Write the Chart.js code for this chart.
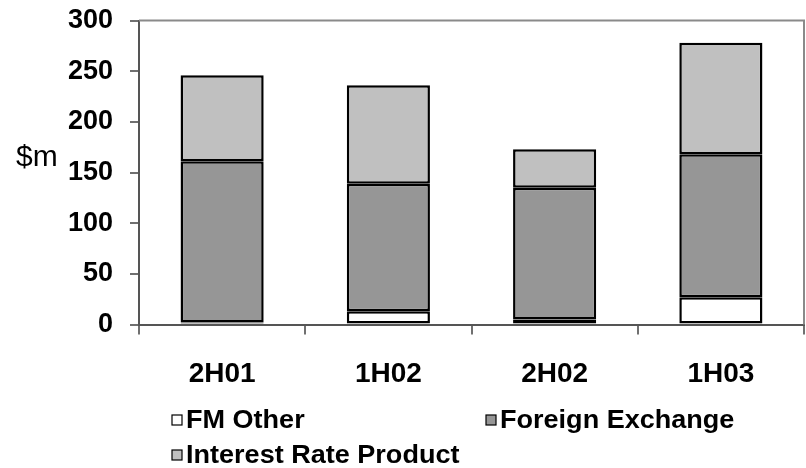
<!DOCTYPE html>
<html>
<head>
<meta charset="utf-8">
<script src="https://cdn.jsdelivr.net/npm/chart.js@4/dist/chart.umd.min.js"></script>
<style>
html,body{margin:0;padding:0;background:#fff;}
#wrap{width:806px;height:468px;position:relative;}
</style>
</head>
<body>
<div id="wrap"><canvas id="c" width="806" height="468"></canvas></div>
<script>
const categories = ['2H01', '1H02', '2H02', '1H03'];
const fmOther = [2, 13, 5, 27];
const foreignExchange = [159, 126, 130, 141];
const interestRateProduct = [85, 97, 38, 110];
const seriesNames = ['FM Other', 'Foreign Exchange', 'Interest Rate Product'];
const yTicks = [0, 50, 100, 150, 200, 250, 300];
const yUnit = '$m';

const FONT = '"Liberation Sans", Arial, sans-serif';

const framePlugin = {
  id: 'frame',
  beforeDatasetsDraw(chart) {
    const a = chart.chartArea, ctx = chart.ctx;
    ctx.save();
    ctx.strokeStyle = '#8a8a8a';
    ctx.lineWidth = 2;
    ctx.beginPath();
    ctx.moveTo(a.left, a.top);
    ctx.lineTo(a.right, a.top);
    ctx.lineTo(a.right, a.bottom);
    ctx.stroke();
    ctx.restore();
  },
  afterDraw(chart) {
    const ctx = chart.ctx, a = chart.chartArea;
    ctx.save();
    ctx.fillStyle = '#000';
    ctx.font = '30px ' + FONT;
    ctx.textBaseline = 'middle';
    ctx.textAlign = 'left';
    ctx.fillText(yUnit, 16, chart.scales.y.getPixelForValue(165));
    const ds = chart.data.datasets;
    const pos = [
      {x: a.left + 33, y: 420},
      {x: a.left + 347, y: 420},
      {x: a.left + 33, y: 455}
    ];
    ctx.font = 'bold 26px ' + FONT;
    ds.forEach((d, i) => {
      const p = pos[i];
      ctx.fillStyle = d.backgroundColor;
      ctx.fillRect(p.x, p.y - 5, 10, 10);
      ctx.strokeStyle = '#000';
      ctx.lineWidth = 1.2;
      ctx.strokeRect(p.x, p.y - 5, 10, 10);
      ctx.fillStyle = '#000';
      ctx.save();
      ctx.translate(p.x + 14, p.y + 1);
      ctx.scale(1.04, 1);
      ctx.fillText(d.label, 0, 0);
      ctx.restore();
    });
    ctx.restore();
  }
};

const barCommon = {borderColor: '#000', borderWidth: 2.5, borderSkipped: false, barPercentage: 0.5, categoryPercentage: 1.0};

new Chart(document.getElementById('c'), {
  type: 'bar',
  data: {
    labels: categories,
    datasets: [
      Object.assign({label: seriesNames[0], data: fmOther, backgroundColor: '#ffffff'}, barCommon),
      Object.assign({label: seriesNames[1], data: foreignExchange, backgroundColor: '#969696'}, barCommon),
      Object.assign({label: seriesNames[2], data: interestRateProduct, backgroundColor: '#c0c0c0'}, barCommon)
    ]
  },
  options: {
    responsive: false,
    animation: false,
    devicePixelRatio: 1,
    layout: {padding: {left: 0, right: 2, top: 20.5, bottom: 0}},
    plugins: {legend: {display: false}, tooltip: {enabled: false}},
    scales: {
      x: {
        stacked: true,
        offset: true,
        grid: {display: true, drawOnChartArea: false, drawTicks: true, tickLength: 10, offset: true, color: '#707070', lineWidth: 2},
        border: {display: true, color: '#555', width: 2},
        ticks: {color: '#000', font: {family: FONT, size: 28, weight: 'bold'}, padding: 23, maxRotation: 0},
        afterFit(s) { s.height = 143.5; s.paddingLeft = 0; s.paddingRight = 0; }
      },
      y: {
        stacked: true,
        min: 0, max: 300,
        afterBuildTicks(s) { s.ticks = yTicks.map(v => ({value: v})); },
        grid: {display: true, drawOnChartArea: false, drawTicks: true, tickLength: 9, color: '#707070', lineWidth: 2},
        border: {display: true, color: '#555', width: 2},
        ticks: {color: '#000', font: {family: FONT, size: 27, weight: 'bold'}, padding: 17},
        afterFit(s) { s.width = 139; s.paddingTop = 0; s.paddingBottom = 0; }
      }
    }
  },
  plugins: [framePlugin]
});
</script>
</body>
</html>
